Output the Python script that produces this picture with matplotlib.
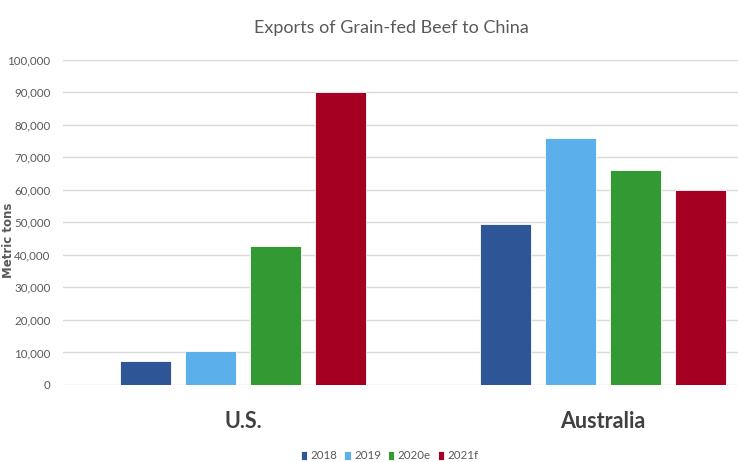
import numpy as np
import matplotlib
matplotlib.use('Agg')
import matplotlib.pyplot as plt
import matplotlib.ticker as ticker

# ── datos ───────────────────────────────────────────────────────────────────
regions = ['U.S.', 'Australia']
years = ['2018', '2019', '2020e', '2021f']
exports_us = [7300, 10400, 42600, 90000]
exports_au = [49500, 76000, 66000, 60000]
colors = ['#2E5596', '#5BB0EC', '#339933', '#A50021']

NARROW = ['Lato', 'DejaVu Sans']
GREY = '#595959'

fig = plt.figure(figsize=(7.38, 4.62), dpi=100)
ax = fig.add_axes([0.0854, 0.1667, 0.9146, 0.7041])

values = np.array([exports_us, exports_au])
x = np.arange(len(regions))
step = 0.181
width = 0.142
for i, (yr, col) in enumerate(zip(years, colors)):
    ax.bar(x + (i - 1.5) * step, values[:, i], width=width, color=col,
           edgecolor='white', linewidth=0.6, label=yr, zorder=3)

ax.set_xlim(-0.5, 1.375)
ax.set_ylim(0, 100000)
ax.yaxis.set_major_locator(ticker.MultipleLocator(10000))
ax.yaxis.set_major_formatter(ticker.FuncFormatter(lambda v, p: f'{int(v):,}'))
ax.grid(axis='y', color='#D9D9D9', linewidth=1.0, zorder=0)
for s in ax.spines.values():
    s.set_visible(False)
ax.tick_params(axis='y', length=0, pad=9, labelsize=8.3, labelcolor=GREY)
for lbl in ax.get_yticklabels():
    lbl.set_family(NARROW)
ax.set_xticks(x)
ax.set_xticklabels(regions, fontsize=15.5, color='#404040', family=NARROW,
                   fontweight='bold')
ax.tick_params(axis='x', length=0, pad=19)

fig.text(0.011, 0.48, 'Metric tons', rotation=90, ha='center', va='center',
         fontsize=8.5, color=GREY, fontweight='bold')
fig.text(0.53, 0.94, 'Exports of Grain-fed Beef to China', ha='center',
         va='center', fontsize=13, color=GREY, family=NARROW)

leg = fig.legend(loc='center', bbox_to_anchor=(0.528, 0.013), ncol=4,
                 frameon=False, handlelength=0.55,
                 handleheight=0.9, handletextpad=0.3, columnspacing=0.6,
                 prop={'family': NARROW, 'size': 8.3})
for t in leg.get_texts():
    t.set_color(GREY)

fig.savefig('out.png', dpi=100, facecolor='white')
